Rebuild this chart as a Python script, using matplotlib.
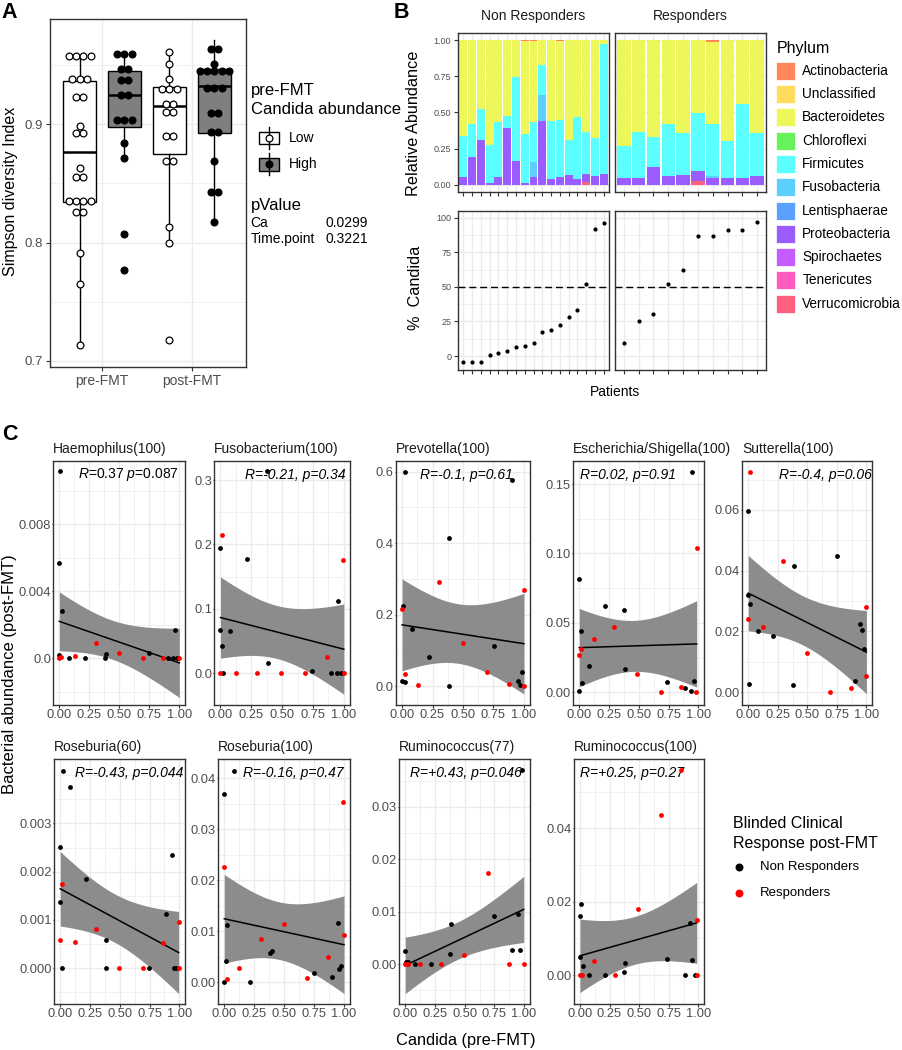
import numpy as np
import matplotlib
matplotlib.use('Agg')
import matplotlib.pyplot as plt
from matplotlib.patches import Rectangle
from matplotlib.ticker import FixedLocator, MultipleLocator

plt.rcParams['font.family'] = ['Liberation Sans', 'DejaVu Sans']
plt.rcParams['mathtext.fontset'] = 'custom'
plt.rcParams['mathtext.rm'] = 'Liberation Sans'
plt.rcParams['mathtext.it'] = 'Liberation Sans:italic'

W, H = 902, 1050
GRID = '#EBEBEB'
FRAME = '#333333'
TICKTXT = '#4D4D4D'

# ---------------- panel A : Simpson diversity (dotplot values) ----------------
pre_low = [0.9573, 0.9573, 0.9573, 0.9573, 0.9381, 0.9381, 0.9381, 0.9234, 0.9234,
           0.8988, 0.8923, 0.8923, 0.8627, 0.8556, 0.8556, 0.8353, 0.8353, 0.8353,
           0.8353, 0.8254, 0.8254, 0.7915, 0.7653, 0.7130]
pre_high = [0.9593, 0.9593, 0.9593, 0.9466, 0.9466, 0.9370, 0.9370, 0.9246, 0.9246,
            0.9036, 0.9036, 0.9036, 0.8839, 0.8717, 0.8076, 0.7765]
post_low = [0.9615, 0.9508, 0.9381, 0.9297, 0.9297, 0.9297, 0.9170, 0.9170, 0.9107,
            0.9107, 0.8903, 0.8903, 0.8689, 0.8689, 0.8132, 0.7992, 0.7172]
post_high = [0.9638, 0.9638, 0.9508, 0.9452, 0.9452, 0.9452, 0.9452, 0.9452, 0.9310,
             0.9310, 0.9310, 0.9093, 0.9093, 0.8932, 0.8932, 0.8689, 0.8424, 0.8424, 0.8175]
# box statistics (pre Low, pre High, post Low, post High)
box_med = [0.8763, 0.9246, 0.9155, 0.9325]
box_q1 = [0.8345, 0.8975, 0.8748, 0.8929]
box_q3 = [0.9367, 0.9452, 0.9314, 0.9466]
box_lo = [0.7130, 0.8717, 0.7992, 0.8175]
box_hi = [0.9573, 0.9593, 0.9615, 0.9714]

# ---------------- panel B : phylum composition ----------------
phyla = ['Actinobacteria', 'Unclassified', 'Bacteroidetes', 'Chloroflexi', 'Firmicutes',
         'Fusobacteria', 'Lentisphaerae', 'Proteobacteria', 'Spirochaetes', 'Tenericutes',
         'Verrucomicrobia']
phylum_colors = ['#FF875A', '#FFDC5E', '#EEF75A', '#66F25A', '#5CFFFF', '#5CCFFF',
                 '#5CA0FF', '#9A5CFF', '#C45CFF', '#FF5CC2', '#FF6080']

nr_verruco = [0, 0, 0, 0, 0, 0, 0, 0, 0, 0, 0, 0, 0, 0, 0.020, 0, 0]
nr_proteo = [0.051, 0.190, 0.310, 0.012, 0.056, 0.391, 0.162, 0.014, 0.051, 0.440, 0.037,
             0.051, 0.069, 0.039, 0.054, 0.058, 0.074]
nr_fuso = [0, 0, 0, 0, 0, 0, 0, 0, 0.104, 0.178, 0, 0, 0, 0, 0, 0, 0]
nr_firm = [0.285, 0.231, 0.215, 0.263, 0.377, 0.088, 0.583, 0.336, 0.278, 0.213, 0.407,
           0.400, 0.241, 0.433, 0.289, 0.268, 0.898]
nr_bact = [0.664, 0.579, 0.475, 0.725, 0.567, 0.521, 0.255, 0.647, 0.562, 0.169, 0.556,
           0.542, 0.690, 0.528, 0.637, 0.674, 0.028]
nr_actino = [0, 0, 0, 0, 0, 0, 0, 0.003, 0.005, 0, 0, 0.007, 0, 0, 0, 0, 0]

r_verruco = [0, 0, 0, 0, 0, 0.025, 0, 0, 0, 0]
r_proteo = [0.044, 0.044, 0.125, 0.058, 0.065, 0.070, 0.050, 0.046, 0.049, 0.062]
r_fuso = [0, 0, 0, 0, 0, 0, 0.008, 0, 0, 0]
r_firm = [0.225, 0.319, 0.204, 0.363, 0.294, 0.400, 0.359, 0.260, 0.511, 0.297]
r_bact = [0.731, 0.637, 0.671, 0.579, 0.641, 0.505, 0.571, 0.694, 0.440, 0.641]
r_actino = [0, 0, 0, 0, 0, 0, 0.012, 0, 0, 0]

nr_candida = [-4.6, -4.6, -4.6, 1.0, 1.9, 3.4, 6.3, 7.0, 9.4, 17.1, 18.8, 22.2, 28.0,
              33.0, 51.8, 91.6, 96.4]
r_candida = [9.2, 25.5, 30.4, 51.8, 61.9, 86.7, 87.0, 90.8, 91.3, 96.6]

# ---------------- panel C : (Candida pre-FMT, bacterial abundance post-FMT) ----------------
haem_nr = [(0.008, 0.0112), (0.0, 0.0057), (0.022, 0.0028), (0.0, 0.0002), (0.083, 0.0),
           (0.217, 0.0), (0.383, 0.0), (0.389, 0.00024), (0.75, 0.0003), (0.903, 0.0),
           (0.944, 0.0), (0.964, 0.0017), (0.978, 0.0)]
haem_r = [(0.0, 0.0), (0.017, 0.0001), (0.128, 0.00014), (0.306, 0.0009), (0.494, 0.00034),
          (0.694, 0.0), (0.867, 0.0), (1.0, 0.0)]
fuso_nr = [(0.378, 0.3145), (0.0, 0.1945), (0.212, 0.1775), (0.952, 0.112), (0.0, 0.068),
           (0.074, 0.066), (0.013, 0.043), (0.384, 0.0166), (0.743, 0.004), (0.019, 0.0),
           (0.894, 0.001), (0.944, 0.0), (0.979, 0.0)]
fuso_r = [(0.013, 0.214), (0.995, 0.176), (0.865, 0.026), (0.0, 0.0), (0.122, 0.0),
          (0.296, 0.0), (0.492, 0.0), (0.688, 0.0), (1.0, 0.0)]
prev_nr = [(0.022, 0.600), (0.901, 0.577), (0.389, 0.415), (0.005, 0.225), (0.085, 0.160),
           (0.751, 0.111), (0.219, 0.080), (0.981, 0.039), (0.0, 0.015), (0.022, 0.012),
           (0.951, 0.014), (0.964, 0.004), (0.384, 0.0)]
prev_r = [(0.304, 0.291), (0.997, 0.270), (0.0, 0.216), (0.499, 0.121), (0.696, 0.039),
          (0.022, 0.033), (0.874, 0.0065), (0.129, 0.003), (1.0, 0.001)]
esch_nr = [(0.944, 0.159), (0.0, 0.0819), (0.214, 0.0622), (0.372, 0.0595), (0.011, 0.044),
           (0.078, 0.0192), (0.381, 0.017), (0.019, 0.007), (0.739, 0.0074), (0.967, 0.0082),
           (0.889, 0.0034), (0.936, 0.001), (0.0, 0.0012)]
esch_r = [(0.986, 0.104), (0.294, 0.047), (0.122, 0.0384), (0.017, 0.0312), (0.0, 0.0269),
          (0.489, 0.0134), (0.856, 0.0038), (0.686, 0.0), (0.981, 0.0)]
sutt_nr = [(0.0, 0.0597), (0.751, 0.0449), (0.385, 0.0416), (0.0, 0.0319), (0.017, 0.0292),
           (0.949, 0.0224), (0.963, 0.0204), (0.079, 0.020), (0.212, 0.0185), (0.983, 0.0143),
           (0.901, 0.0038), (0.008, 0.0027), (0.377, 0.0024)]
sutt_r = [(0.014, 0.0726), (0.297, 0.0433), (1.0, 0.0282), (0.0, 0.0241), (0.122, 0.0214),
          (0.496, 0.013), (1.0, 0.0055), (0.873, 0.0013), (0.694, 0.0)]
rose60_nr = [(0.019, 0.00408), (0.08, 0.00375), (0.0, 0.00252), (0.942, 0.00234),
             (0.215, 0.00184), (0.0, 0.00136), (0.892, 0.00113), (0.387, 0.00059),
             (0.017, 0.0), (0.381, 0.0), (0.746, 0.0), (0.953, 0.0), (0.972, 0.0)]
rose60_r = [(0.017, 0.00174), (0.994, 0.00095), (0.298, 0.00082), (0.0, 0.00059),
            (0.127, 0.00053), (0.862, 0.00052), (0.492, 0.0), (0.691, 0.0), (0.994, 0.0)]
rose100_nr = [(0.084, 0.0415), (0.0, 0.0369), (0.946, 0.0117), (0.024, 0.0112),
              (0.384, 0.0058), (0.395, 0.0061), (0.016, 0.0041), (0.957, 0.0027),
              (0.978, 0.0031), (0.749, 0.0018), (0.897, 0.001), (0.0, 0.0), (0.216, 0.0)]
rose100_r = [(0.995, 0.0354), (0.0, 0.0226), (0.495, 0.0114), (1.0, 0.0092), (0.303, 0.0084),
             (0.868, 0.005), (0.124, 0.0029), (0.695, 0.0008), (0.019, 0.0007)]
rum77_nr = [(0.983, 0.037), (0.749, 0.00925), (0.949, 0.0096), (0.386, 0.0077), (0.0, 0.0026),
            (0.901, 0.0027), (0.966, 0.0027), (0.377, 0.0019), (0.006, 0.0004),
            (0.023, 0.0004), (0.082, 0.0), (0.217, 0.0)]
rum77_r = [(0.696, 0.0174), (0.496, 0.0017), (0.0, 0.0), (0.011, 0.0), (0.023, 0.0),
           (0.127, 0.0), (0.299, 0.0), (0.873, 0.0), (0.997, 0.0)]
rum100_nr = [(0.011, 0.0193), (0.0, 0.0162), (0.933, 0.0143), (0.947, 0.0042), (0.739, 0.0044),
             (0.0, 0.005), (0.381, 0.0034), (0.022, 0.0025), (0.375, 0.0008), (0.078, 0.0),
             (0.214, 0.0), (0.889, 0.0), (0.972, 0.0)]
rum100_r = [(0.856, 0.0558), (0.683, 0.0435), (0.489, 0.0179), (0.986, 0.0151),
            (0.122, 0.0038), (0.0, 0.0), (0.017, 0.0), (0.297, 0.0), (0.986, 0.0)]

genus_titles = ['Haemophilus(100)', 'Fusobacterium(100)', 'Prevotella(100)',
                'Escherichia/Shigella(100)', 'Sutterella(100)', 'Roseburia(60)',
                'Roseburia(100)', 'Ruminococcus(77)', 'Ruminococcus(100)']
cor_labels = [r'$\it{R}$=0.37 $\it{p}$=0.087', 'R=-0.21, p=0.34', 'R=-0.1, p=0.61',
              'R=0.02, p=0.91', 'R=-0.4, p=0.06', 'R=-0.43, p=0.044', 'R=-0.16, p=0.47',
              'R=+0.43, p=0.046', 'R=+0.25, p=0.27']
genus_nr = [haem_nr, fuso_nr, prev_nr, esch_nr, sutt_nr, rose60_nr, rose100_nr, rum77_nr, rum100_nr]
genus_r = [haem_r, fuso_r, prev_r, esch_r, sutt_r, rose60_r, rose100_r, rum77_r, rum100_r]

# layout of panel C (pixel boxes, limits, breaks)
c_boxes = [(53.3, 460.7, 185.3, 705), (214.3, 460.7, 350, 705), (396, 460.7, 530, 705),
           (573.3, 460.7, 704.3, 705), (742.3, 460.7, 872.3, 705),
           (54.3, 759.3, 185.3, 1004), (218.3, 759.3, 350, 1004), (399.3, 759.3, 530, 1004),
           (574, 759.3, 704.3, 1004)]
c_ylims = [(-0.00279, 0.0118), (-0.049, 0.330), (-0.053, 0.631), (-0.0091, 0.1668),
           (-0.0042, 0.0762), (-0.000746, 0.00433), (-0.00425, 0.0437), (-0.0076, 0.0391),
           (-0.0079, 0.0588)]
c_yticks = [[0, 0.004, 0.008], [0, 0.1, 0.2, 0.3], [0, 0.2, 0.4, 0.6], [0, 0.05, 0.10, 0.15],
            [0, 0.02, 0.04, 0.06], [0, 0.001, 0.002, 0.003], [0, 0.01, 0.02, 0.03, 0.04],
            [0, 0.01, 0.02, 0.03], [0, 0.02, 0.04]]
c_yticklabels = [['0.0', '0.004', '0.008'], ['0.0', '0.1', '0.2', '0.3'],
                 ['0.0', '0.2', '0.4', '0.6'], ['0.00', '0.05', '0.10', '0.15'],
                 ['0.00', '0.02', '0.04', '0.06'], ['0.000', '0.001', '0.002', '0.003'],
                 ['0.00', '0.01', '0.02', '0.03', '0.04'], ['0.00', '0.01', '0.02', '0.03'],
                 ['0.00', '0.02', '0.04']]
c_label_x = [0.19, 0.226, 0.18, 0.05, 0.28, 0.158, 0.19, 0.08, 0.046]

fig = plt.figure(figsize=(W / 100, H / 100), dpi=100)


def add_ax(l, t, r, b):
    return fig.add_axes([l / W, 1 - b / H, (r - l) / W, (b - t) / H])


def gg_style(ax, size, length=2.7, pad=2.2):
    ax.set_facecolor('white')
    for sp in ax.spines.values():
        sp.set_color(FRAME)
        sp.set_linewidth(1.0)
    ax.tick_params(which='major', colors=FRAME, labelcolor=TICKTXT, labelsize=size,
                   length=length, width=0.8, pad=pad)
    ax.tick_params(which='minor', length=0)
    ax.grid(which='major', color=GRID, lw=1.0)
    ax.grid(which='minor', color=GRID, lw=0.5)
    ax.set_axisbelow(True)


def dot_stack(vals, center, step):
    # centre equal values side by side, like geom_dotplot(stackdir='center')
    counts = {}
    for v in vals:
        counts[v] = counts.get(v, 0) + 1
    xs, ys = [], []
    for v, n in counts.items():
        for i in range(n):
            xs.append(center + (i - (n - 1) / 2) * step)
            ys.append(v)
    return xs, ys


# ================= panel A =================
axA = add_ax(50, 19, 245.6, 366.7)
gg_style(axA, 9.5)
axA.set_xlim(0.42, 2.6)
axA.set_ylim(0.695, 0.989)
axA.set_xticks([1, 2])
axA.set_xticklabels(['pre-FMT', 'post-FMT'], fontsize=10)
axA.set_yticks([0.7, 0.8, 0.9])
axA.set_yticklabels(['0.7', '0.8', '0.9'])
axA.yaxis.set_minor_locator(FixedLocator([0.75, 0.85, 0.95]))

positions = [0.75, 1.25, 1.75, 2.25]
box_fill = ['white', '#7F7F7F', 'white', '#7F7F7F']
stats = [dict(med=box_med[i], q1=box_q1[i], q3=box_q3[i], whislo=box_lo[i],
              whishi=box_hi[i], fliers=[]) for i in range(4)]
bp = axA.bxp(stats, positions=positions, widths=0.367, patch_artist=True,
             showfliers=False, showcaps=False, manage_ticks=False,
             boxprops=dict(edgecolor='black', lw=1.0),
             medianprops=dict(color='black', lw=1.8),
             whiskerprops=dict(color='black', lw=1.0))
for patch, fc in zip(bp['boxes'], box_fill):
    patch.set_facecolor(fc)

for vals, pos, fc in zip([pre_low, pre_high, post_low, post_high], positions,
                         ['white', 'black', 'white', 'black']):
    xs, ys = dot_stack(vals, pos, 0.0815)
    axA.scatter(xs, ys, s=24, c=fc, edgecolors='black', linewidths=0.9, zorder=4)

# ================= panel B =================
nr_stack = {'Verrucomicrobia': nr_verruco, 'Proteobacteria': nr_proteo,
            'Fusobacteria': nr_fuso, 'Firmicutes': nr_firm, 'Bacteroidetes': nr_bact,
            'Actinobacteria': nr_actino}
r_stack = {'Verrucomicrobia': r_verruco, 'Proteobacteria': r_proteo,
           'Fusobacteria': r_fuso, 'Firmicutes': r_firm, 'Bacteroidetes': r_bact,
           'Actinobacteria': r_actino}
color_of = dict(zip(phyla, phylum_colors))

b_cols = [(458, 609, nr_stack, nr_candida, 'Non Responders'),
          (615, 766, r_stack, r_candida, 'Responders')]
for k, (l, r, stack, cand, strip) in enumerate(b_cols):
    n = len(cand)
    xpos = np.arange(1, n + 1)
    axt = add_ax(l, 33, r, 192)
    gg_style(axt, 6.5)
    bottom = np.zeros(n)
    for ph in reversed(phyla):
        if ph in stack:
            v = np.array(stack[ph])
            axt.bar(xpos, v, bottom=bottom, width=0.9, color=color_of[ph], lw=0, zorder=2)
            bottom += v
    axt.set_xlim(0.4, n + 0.6)
    axt.set_ylim(-0.05, 1.05)
    axt.set_xticks(xpos)
    axt.set_xticklabels([])
    axt.set_yticks([0, 0.25, 0.5, 0.75, 1.0])
    axt.yaxis.set_minor_locator(MultipleLocator(0.125))
    if k == 0:
        axt.set_yticklabels(['0.00', '0.25', '0.50', '0.75', '1.00'])
    else:
        axt.tick_params(axis='y', left=False, labelleft=False)
    axt.text(0.5, 1.065, strip, transform=axt.transAxes, ha='center', va='bottom',
             fontsize=10, color='#1A1A1A')

    axb = add_ax(l, 210.7, r, 370)
    gg_style(axb, 6.5)
    axb.scatter(xpos, cand, s=9, c='black', lw=0, zorder=3)
    axb.axhline(50, color='black', lw=1.0, ls=(0, (5, 2.8)), zorder=2)
    axb.set_xlim(0.4, n + 0.6)
    axb.set_ylim(-10.1, 105.1)
    axb.set_xticks(xpos)
    axb.set_xticklabels([])
    axb.set_yticks([0, 25, 50, 75, 100])
    axb.yaxis.set_minor_locator(MultipleLocator(12.5))
    if k == 0:
        axb.set_yticklabels(['0', '25', '50', '75', '100'])
    else:
        axb.tick_params(axis='y', left=False, labelleft=False)

# ================= panel C =================
T975 = 2.09  # t quantile for the 95% band of geom_smooth(method='lm')
for i in range(9):
    l, t, r, b = c_boxes[i]
    ax = add_ax(l, t, r, b)
    gg_style(ax, 9.3)
    ax.tick_params(axis='y', length=1.0, pad=0.6)
    ax.tick_params(axis='x', length=2.0, pad=1.2)
    pts = np.array(genus_nr[i] + genus_r[i])
    x, y = pts[:, 0], pts[:, 1]
    slope, icpt = np.polyfit(x, y, 1)
    xs = np.linspace(x.min(), x.max(), 80)
    fit = slope * xs + icpt
    s = np.sqrt(((y - (slope * x + icpt)) ** 2).sum() / (len(x) - 2))
    se = s * np.sqrt(1 / len(x) + (xs - x.mean()) ** 2 / ((x - x.mean()) ** 2).sum())
    ax.fill_between(xs, fit - T975 * se, fit + T975 * se, color='#8C8C8C', lw=0, zorder=2)
    ax.plot(xs, fit, color='black', lw=1.1, zorder=3)
    nr = np.array(genus_nr[i])
    rr = np.array(genus_r[i])
    ax.scatter(nr[:, 0], nr[:, 1], s=12, c='black', lw=0, zorder=4)
    ax.scatter(rr[:, 0], rr[:, 1], s=12, c='#FF0000', lw=0, zorder=4)
    ax.set_xlim(-0.05, 1.05)
    ax.set_ylim(*c_ylims[i])
    ax.set_xticks([0, 0.25, 0.5, 0.75, 1.0])
    ax.set_xticklabels(['0.00', '0.25', '0.50', '0.75', '1.00'])
    ax.xaxis.set_minor_locator(MultipleLocator(0.125))
    ax.set_yticks(c_yticks[i])
    ax.set_yticklabels(c_yticklabels[i])
    step = c_yticks[i][1] - c_yticks[i][0]
    ax.yaxis.set_minor_locator(MultipleLocator(step / 2))
    ax.text(c_label_x[i], 0.942, cor_labels[i], transform=ax.transAxes, ha='left',
            va='center', fontsize=10, fontstyle='italic' if i > 0 else 'normal')
    ax.text(0.0, 1.02, genus_titles[i], transform=ax.transAxes, ha='left', va='bottom',
            fontsize=10, color='#1A1A1A')

# ================= overlay: titles, legends, panel letters =================
ov = fig.add_axes([0, 0, 1, 1], zorder=10)
ov.set_xlim(0, W)
ov.set_ylim(H, 0)
ov.axis('off')

for letter, x, y in [('A', 9, 12.5), ('B', 401.5, 12.5), ('C', 10, 435)]:
    ov.text(x, y, letter, fontsize=15.5, fontweight='bold', ha='center', va='center')

# panel A texts
ov.text(10.5, 191.7, 'Simpson diversity Index', rotation=90, ha='center', va='center', fontsize=11.5)
ov.text(250.7, 90, 'pre-FMT', fontsize=12, va='center')
ov.text(250.7, 109.3, 'Candida abundance', fontsize=12, va='center')
for label, cy, face, dot in [('Low', 137.7, 'white', 'white'), ('High', 164.3, '#7F7F7F', 'black')]:
    ov.plot([269.3, 269.3], [cy - 11, cy + 11], color='black', lw=1.0)
    ov.add_patch(Rectangle((259.3, cy - 6.2), 20, 12.4, facecolor=face, edgecolor='black', lw=1.0))
    ov.scatter([269.3], [cy], s=24, c=dot, edgecolors='black', linewidths=0.9, zorder=5)
    ov.text(289.3, cy, label, fontsize=10, va='center')
ov.text(250.7, 205.7, 'pValue', fontsize=12, va='center')
ov.text(250.7, 222.7, 'Ca', fontsize=10, va='center')
ov.text(325, 222.7, '0.0299', fontsize=10, va='center')
ov.text(250.7, 239.3, 'Time.point', fontsize=10, va='center')
ov.text(325, 239.3, '0.3221', fontsize=10, va='center')

# panel B texts
ov.text(414, 123, 'Relative Abundance', rotation=90, ha='center', va='center', fontsize=11.7)
ov.text(415, 288.3, '%  Candida', rotation=90, ha='center', va='center', fontsize=11.7)
ov.text(615, 391.7, 'Patients', ha='center', va='center', fontsize=10)
ov.text(777, 49, 'Phylum', fontsize=11.5, va='center')
for j, (ph, col) in enumerate(zip(phyla, phylum_colors)):
    cy = 70.7 + j * 23.3
    ov.add_patch(Rectangle((776, cy - 9), 19, 18, facecolor=col, edgecolor='white', lw=0.5))
    ov.text(802.3, cy, ph, fontsize=9.8, va='center')

# panel C texts
ov.text(9.5, 674, 'Bacterial abundance (post-FMT)', rotation=90, ha='center', va='center', fontsize=12)
ov.text(466, 1040, 'Candida (pre-FMT)', ha='center', va='center', fontsize=11.8)
ov.text(733.3, 823, 'Blinded Clinical', fontsize=11.5, va='center')
ov.text(733.3, 843.3, 'Response post-FMT', fontsize=11.5, va='center')
for label, cy, col in [('Non Responders', 867.3, 'black'), ('Responders', 893.3, '#FF0000')]:
    ov.scatter([739.3], [cy], s=33, c=col, lw=0)
    ov.text(760, cy, label, fontsize=9.5, va='center')

fig.savefig('out.png', dpi=100)
